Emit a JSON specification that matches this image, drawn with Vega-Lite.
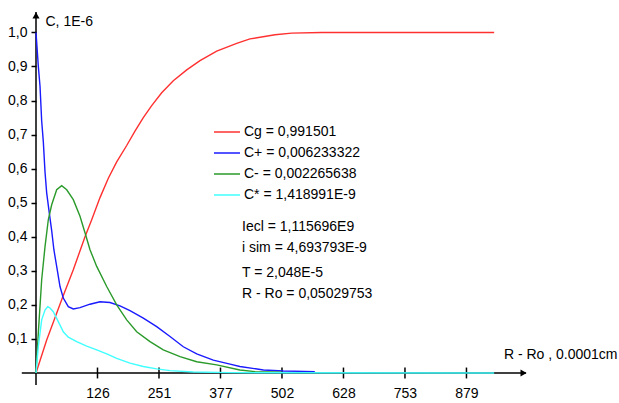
{
  "$schema": "https://vega.github.io/schema/vega-lite/v6.json",
  "width": 490,
  "height": 361,
  "autosize": {"type": "none"},
  "padding": {"left": 36, "top": 12, "right": 93, "bottom": 30},
  "background": "white",
  "config": {
    "view": {"stroke": null},
    "font": "Liberation Sans",
    "legend": {
      "orient": "none",
      "legendX": 177,
      "legendY": 106,
      "symbolType": "stroke",
      "symbolSize": 676,
      "symbolStrokeWidth": 1.5,
      "labelFont": "Liberation Sans",
      "labelFontSize": 14,
      "labelColor": "#000",
      "labelOffset": 3,
      "rowPadding": -7,
      "padding": 0,
      "title": null
    }
  },
  "datasets": {
    "curves": [
      {"series": "Cg = 0,991501", "x": 0, "y": 0},
      {"series": "Cg = 0,991501", "x": 21.8, "y": 0.097},
      {"series": "Cg = 0,991501", "x": 52.4, "y": 0.215},
      {"series": "Cg = 0,991501", "x": 76.1, "y": 0.303},
      {"series": "Cg = 0,991501", "x": 100, "y": 0.4},
      {"series": "Cg = 0,991501", "x": 113.7, "y": 0.45},
      {"series": "Cg = 0,991501", "x": 130.6, "y": 0.515},
      {"series": "Cg = 0,991501", "x": 147.6, "y": 0.572},
      {"series": "Cg = 0,991501", "x": 164.7, "y": 0.62},
      {"series": "Cg = 0,991501", "x": 185.1, "y": 0.668},
      {"series": "Cg = 0,991501", "x": 202, "y": 0.71},
      {"series": "Cg = 0,991501", "x": 219, "y": 0.75},
      {"series": "Cg = 0,991501", "x": 236.1, "y": 0.785},
      {"series": "Cg = 0,991501", "x": 256.5, "y": 0.823},
      {"series": "Cg = 0,991501", "x": 280.2, "y": 0.858},
      {"series": "Cg = 0,991501", "x": 307.6, "y": 0.89},
      {"series": "Cg = 0,991501", "x": 334.7, "y": 0.917},
      {"series": "Cg = 0,991501", "x": 368.8, "y": 0.945},
      {"series": "Cg = 0,991501", "x": 409.6, "y": 0.968},
      {"series": "Cg = 0,991501", "x": 436.7, "y": 0.981},
      {"series": "Cg = 0,991501", "x": 487.8, "y": 0.993},
      {"series": "Cg = 0,991501", "x": 521.8, "y": 0.998},
      {"series": "Cg = 0,991501", "x": 583, "y": 1.0},
      {"series": "Cg = 0,991501", "x": 935, "y": 1.0},

      {"series": "C+ = 0,006233322", "x": 0, "y": 1.0},
      {"series": "C+ = 0,006233322", "x": 1.4, "y": 0.971},
      {"series": "C+ = 0,006233322", "x": 4.7, "y": 0.901},
      {"series": "C+ = 0,006233322", "x": 8.2, "y": 0.842},
      {"series": "C+ = 0,006233322", "x": 11.6, "y": 0.74},
      {"series": "C+ = 0,006233322", "x": 14.9, "y": 0.68},
      {"series": "C+ = 0,006233322", "x": 18.4, "y": 0.59},
      {"series": "C+ = 0,006233322", "x": 21.8, "y": 0.529},
      {"series": "C+ = 0,006233322", "x": 27.1, "y": 0.47},
      {"series": "C+ = 0,006233322", "x": 32, "y": 0.418},
      {"series": "C+ = 0,006233322", "x": 36.5, "y": 0.362},
      {"series": "C+ = 0,006233322", "x": 42.2, "y": 0.313},
      {"series": "C+ = 0,006233322", "x": 49, "y": 0.254},
      {"series": "C+ = 0,006233322", "x": 55.7, "y": 0.22},
      {"series": "C+ = 0,006233322", "x": 65.9, "y": 0.195},
      {"series": "C+ = 0,006233322", "x": 76.1, "y": 0.188},
      {"series": "C+ = 0,006233322", "x": 89.8, "y": 0.192},
      {"series": "C+ = 0,006233322", "x": 110.2, "y": 0.202},
      {"series": "C+ = 0,006233322", "x": 130.6, "y": 0.209},
      {"series": "C+ = 0,006233322", "x": 151, "y": 0.207},
      {"series": "C+ = 0,006233322", "x": 171.4, "y": 0.197},
      {"series": "C+ = 0,006233322", "x": 191.8, "y": 0.183},
      {"series": "C+ = 0,006233322", "x": 219, "y": 0.161},
      {"series": "C+ = 0,006233322", "x": 246.3, "y": 0.136},
      {"series": "C+ = 0,006233322", "x": 273.5, "y": 0.107},
      {"series": "C+ = 0,006233322", "x": 300.6, "y": 0.077},
      {"series": "C+ = 0,006233322", "x": 328, "y": 0.056},
      {"series": "C+ = 0,006233322", "x": 361.8, "y": 0.038},
      {"series": "C+ = 0,006233322", "x": 396, "y": 0.026},
      {"series": "C+ = 0,006233322", "x": 416, "y": 0.019},
      {"series": "C+ = 0,006233322", "x": 464, "y": 0.009},
      {"series": "C+ = 0,006233322", "x": 504.7, "y": 0.006},
      {"series": "C+ = 0,006233322", "x": 569, "y": 0.004},

      {"series": "C- = 0,002265638", "x": 0, "y": 0},
      {"series": "C- = 0,002265638", "x": 4.7, "y": 0.117},
      {"series": "C- = 0,002265638", "x": 11.6, "y": 0.274},
      {"series": "C- = 0,002265638", "x": 18.4, "y": 0.371},
      {"series": "C- = 0,002265638", "x": 25.1, "y": 0.45},
      {"series": "C- = 0,002265638", "x": 32, "y": 0.494},
      {"series": "C- = 0,002265638", "x": 42.2, "y": 0.538},
      {"series": "C- = 0,002265638", "x": 52.4, "y": 0.55},
      {"series": "C- = 0,002265638", "x": 62.7, "y": 0.538},
      {"series": "C- = 0,002265638", "x": 76.1, "y": 0.509},
      {"series": "C- = 0,002265638", "x": 89.8, "y": 0.46},
      {"series": "C- = 0,002265638", "x": 100, "y": 0.412},
      {"series": "C- = 0,002265638", "x": 110.2, "y": 0.362},
      {"series": "C- = 0,002265638", "x": 123.9, "y": 0.313},
      {"series": "C- = 0,002265638", "x": 144.3, "y": 0.254},
      {"series": "C- = 0,002265638", "x": 164.7, "y": 0.2},
      {"series": "C- = 0,002265638", "x": 185.1, "y": 0.156},
      {"series": "C- = 0,002265638", "x": 205.5, "y": 0.121},
      {"series": "C- = 0,002265638", "x": 232.7, "y": 0.092},
      {"series": "C- = 0,002265638", "x": 259.8, "y": 0.068},
      {"series": "C- = 0,002265638", "x": 293.9, "y": 0.048},
      {"series": "C- = 0,002265638", "x": 328, "y": 0.033},
      {"series": "C- = 0,002265638", "x": 368.8, "y": 0.024},
      {"series": "C- = 0,002265638", "x": 416, "y": 0.009},
      {"series": "C- = 0,002265638", "x": 447, "y": 0.004},
      {"series": "C- = 0,002265638", "x": 502, "y": 0.002},

      {"series": "C* = 1,418991E-9", "x": 0, "y": 0},
      {"series": "C* = 1,418991E-9", "x": 4.7, "y": 0.077},
      {"series": "C* = 1,418991E-9", "x": 11.6, "y": 0.156},
      {"series": "C* = 1,418991E-9", "x": 18.4, "y": 0.185},
      {"series": "C* = 1,418991E-9", "x": 24, "y": 0.195},
      {"series": "C* = 1,418991E-9", "x": 28.6, "y": 0.191},
      {"series": "C* = 1,418991E-9", "x": 35.3, "y": 0.18},
      {"series": "C* = 1,418991E-9", "x": 45.5, "y": 0.151},
      {"series": "C* = 1,418991E-9", "x": 55.7, "y": 0.121},
      {"series": "C* = 1,418991E-9", "x": 65.9, "y": 0.105},
      {"series": "C* = 1,418991E-9", "x": 83, "y": 0.092},
      {"series": "C* = 1,418991E-9", "x": 103.5, "y": 0.079},
      {"series": "C* = 1,418991E-9", "x": 123.9, "y": 0.068},
      {"series": "C* = 1,418991E-9", "x": 144.3, "y": 0.056},
      {"series": "C* = 1,418991E-9", "x": 164.7, "y": 0.043},
      {"series": "C* = 1,418991E-9", "x": 191.8, "y": 0.029},
      {"series": "C* = 1,418991E-9", "x": 219, "y": 0.019},
      {"series": "C* = 1,418991E-9", "x": 246.3, "y": 0.012},
      {"series": "C* = 1,418991E-9", "x": 273.5, "y": 0.007},
      {"series": "C* = 1,418991E-9", "x": 320.4, "y": 0.003},
      {"series": "C* = 1,418991E-9", "x": 396, "y": 0.001},
      {"series": "C* = 1,418991E-9", "x": 935, "y": 0}
    ],
    "ticks": [
      {"t": 125.5}, {"t": 251}, {"t": 376.5}, {"t": 502}, {"t": 627.5}, {"t": 753}, {"t": 878.5}
    ]
  },
  "layer": [
    {
      "data": {"values": [{}]},
      "mark": {"type": "rule", "color": "#000", "strokeWidth": 1.5},
      "encoding": {
        "x": {"datum": -29, "type": "quantitative", "scale": {"domain": [0, 1000], "nice": false, "zero": false}},
        "x2": {"datum": 1000},
        "y": {"datum": 0, "type": "quantitative", "scale": {"domain": [0, 1.06], "nice": false, "zero": false}}
      }
    },
    {
      "data": {"values": [{}]},
      "mark": {"type": "rule", "color": "#000", "strokeWidth": 1.5},
      "encoding": {
        "x": {"datum": 0, "type": "quantitative", "scale": {"domain": [0, 1000], "nice": false, "zero": false}},
        "y": {"datum": -0.035, "type": "quantitative", "scale": {"domain": [0, 1.06], "nice": false, "zero": false}},
        "y2": {"datum": 1.06}
      }
    },
    {
      "data": {"name": "ticks"},
      "mark": {"type": "rule", "color": "#000", "strokeWidth": 1.5},
      "encoding": {
        "x": {"field": "t", "type": "quantitative", "title": "R - Ro , 0.0001cm", "scale": {"domain": [0, 1000], "nice": false, "zero": false}},
        "y": {"datum": -0.016, "type": "quantitative", "scale": {"domain": [0, 1.06], "nice": false, "zero": false}},
        "y2": {"datum": 0.016}
      }
    },
    {
      "data": {"name": "curves"},
      "mark": {"type": "line", "strokeWidth": 1.4, "interpolate": "linear"},
      "encoding": {
        "x": {
          "field": "x", "type": "quantitative", "title": "R - Ro , 0.0001cm",
          "scale": {"domain": [0, 1000], "nice": false, "zero": false},
          "axis": {
            "domain": false, "ticks": false, "grid": false,
            "values": [125.5, 251, 376.5, 502, 627.5, 753, 878.5],
            "labelExpr": "format(datum.value, 'd')",
            "labelFont": "Liberation Sans", "labelFontSize": 14, "labelColor": "#000",
            "labelPadding": 13,
            "title": "R - Ro , 0.0001cm",
            "titleFont": "Liberation Sans", "titleFontSize": 14, "titleFontWeight": "normal", "titleColor": "#000",
            "titleAlign": "right", "titleBaseline": "middle", "titleAngle": 0,
            "titleX": 581, "titleY": -19
          }
        },
        "y": {
          "field": "y", "type": "quantitative", "title": "C, 1E-6",
          "scale": {"domain": [0, 1.06], "nice": false, "zero": false},
          "axis": {
            "domain": false, "grid": false,
            "values": [0.1, 0.2, 0.3, 0.4, 0.5, 0.6, 0.7, 0.8, 0.9, 1.0],
            "labelExpr": "replace(format(datum.value, '.1f'), '.', ',')",
            "ticks": true, "tickSize": 5, "tickColor": "#000", "tickWidth": 1.5,
            "labelFont": "Liberation Sans", "labelFontSize": 14, "labelColor": "#000",
            "labelPadding": 4,
            "title": "C, 1E-6",
            "titleFont": "Liberation Sans", "titleFontSize": 14, "titleFontWeight": "normal", "titleColor": "#000",
            "titleAlign": "left", "titleBaseline": "middle", "titleAngle": 0,
            "titleX": 9, "titleY": 9
          }
        },
        "color": {
          "field": "series", "type": "nominal",
          "scale": {
            "domain": ["Cg = 0,991501", "C+ = 0,006233322", "C- = 0,002265638", "C* = 1,418991E-9"],
            "range": ["#ff3030", "#1a1aff", "#2a9a2a", "#40ffff"]
          },
          "legend": {"title": null}
        }
      }
    },
    {
      "data": {"values": [{}]},
      "mark": {"type": "point", "shape": "triangle-right", "filled": true, "color": "#000", "size": 50, "opacity": 1},
      "encoding": {
        "x": {"datum": 995, "type": "quantitative", "scale": {"domain": [0, 1000], "nice": false, "zero": false}},
        "y": {"datum": 0, "type": "quantitative", "scale": {"domain": [0, 1.06], "nice": false, "zero": false}}
      }
    },
    {
      "data": {"values": [{}]},
      "mark": {"type": "point", "shape": "triangle-up", "filled": true, "color": "#000", "size": 50, "opacity": 1},
      "encoding": {
        "x": {"datum": 0, "type": "quantitative", "scale": {"domain": [0, 1000], "nice": false, "zero": false}},
        "y": {"datum": 1.05, "type": "quantitative", "scale": {"domain": [0, 1.06], "nice": false, "zero": false}}
      }
    },
    {
      "data": {"values": [{}]},
      "mark": {"type": "text", "align": "left", "baseline": "middle", "font": "Liberation Sans", "fontSize": 14, "color": "#000", "lineHeight": 21,
        "text": ["Iecl = 1,115696E9", "i sim = 4,693793E-9"]},
      "encoding": {
        "x": {"datum": 420.4, "type": "quantitative", "scale": {"domain": [0, 1000], "nice": false, "zero": false}},
        "y": {"datum": 0.428, "type": "quantitative", "scale": {"domain": [0, 1.06], "nice": false, "zero": false}}
      }
    },
    {
      "data": {"values": [{}]},
      "mark": {"type": "text", "align": "left", "baseline": "middle", "font": "Liberation Sans", "fontSize": 14, "color": "#000", "lineHeight": 21,
        "text": ["T = 2,048E-5", "R - Ro = 0,05029753"]},
      "encoding": {
        "x": {"datum": 420.4, "type": "quantitative", "scale": {"domain": [0, 1000], "nice": false, "zero": false}},
        "y": {"datum": 0.2926, "type": "quantitative", "scale": {"domain": [0, 1.06], "nice": false, "zero": false}}
      }
    }
  ]
}
